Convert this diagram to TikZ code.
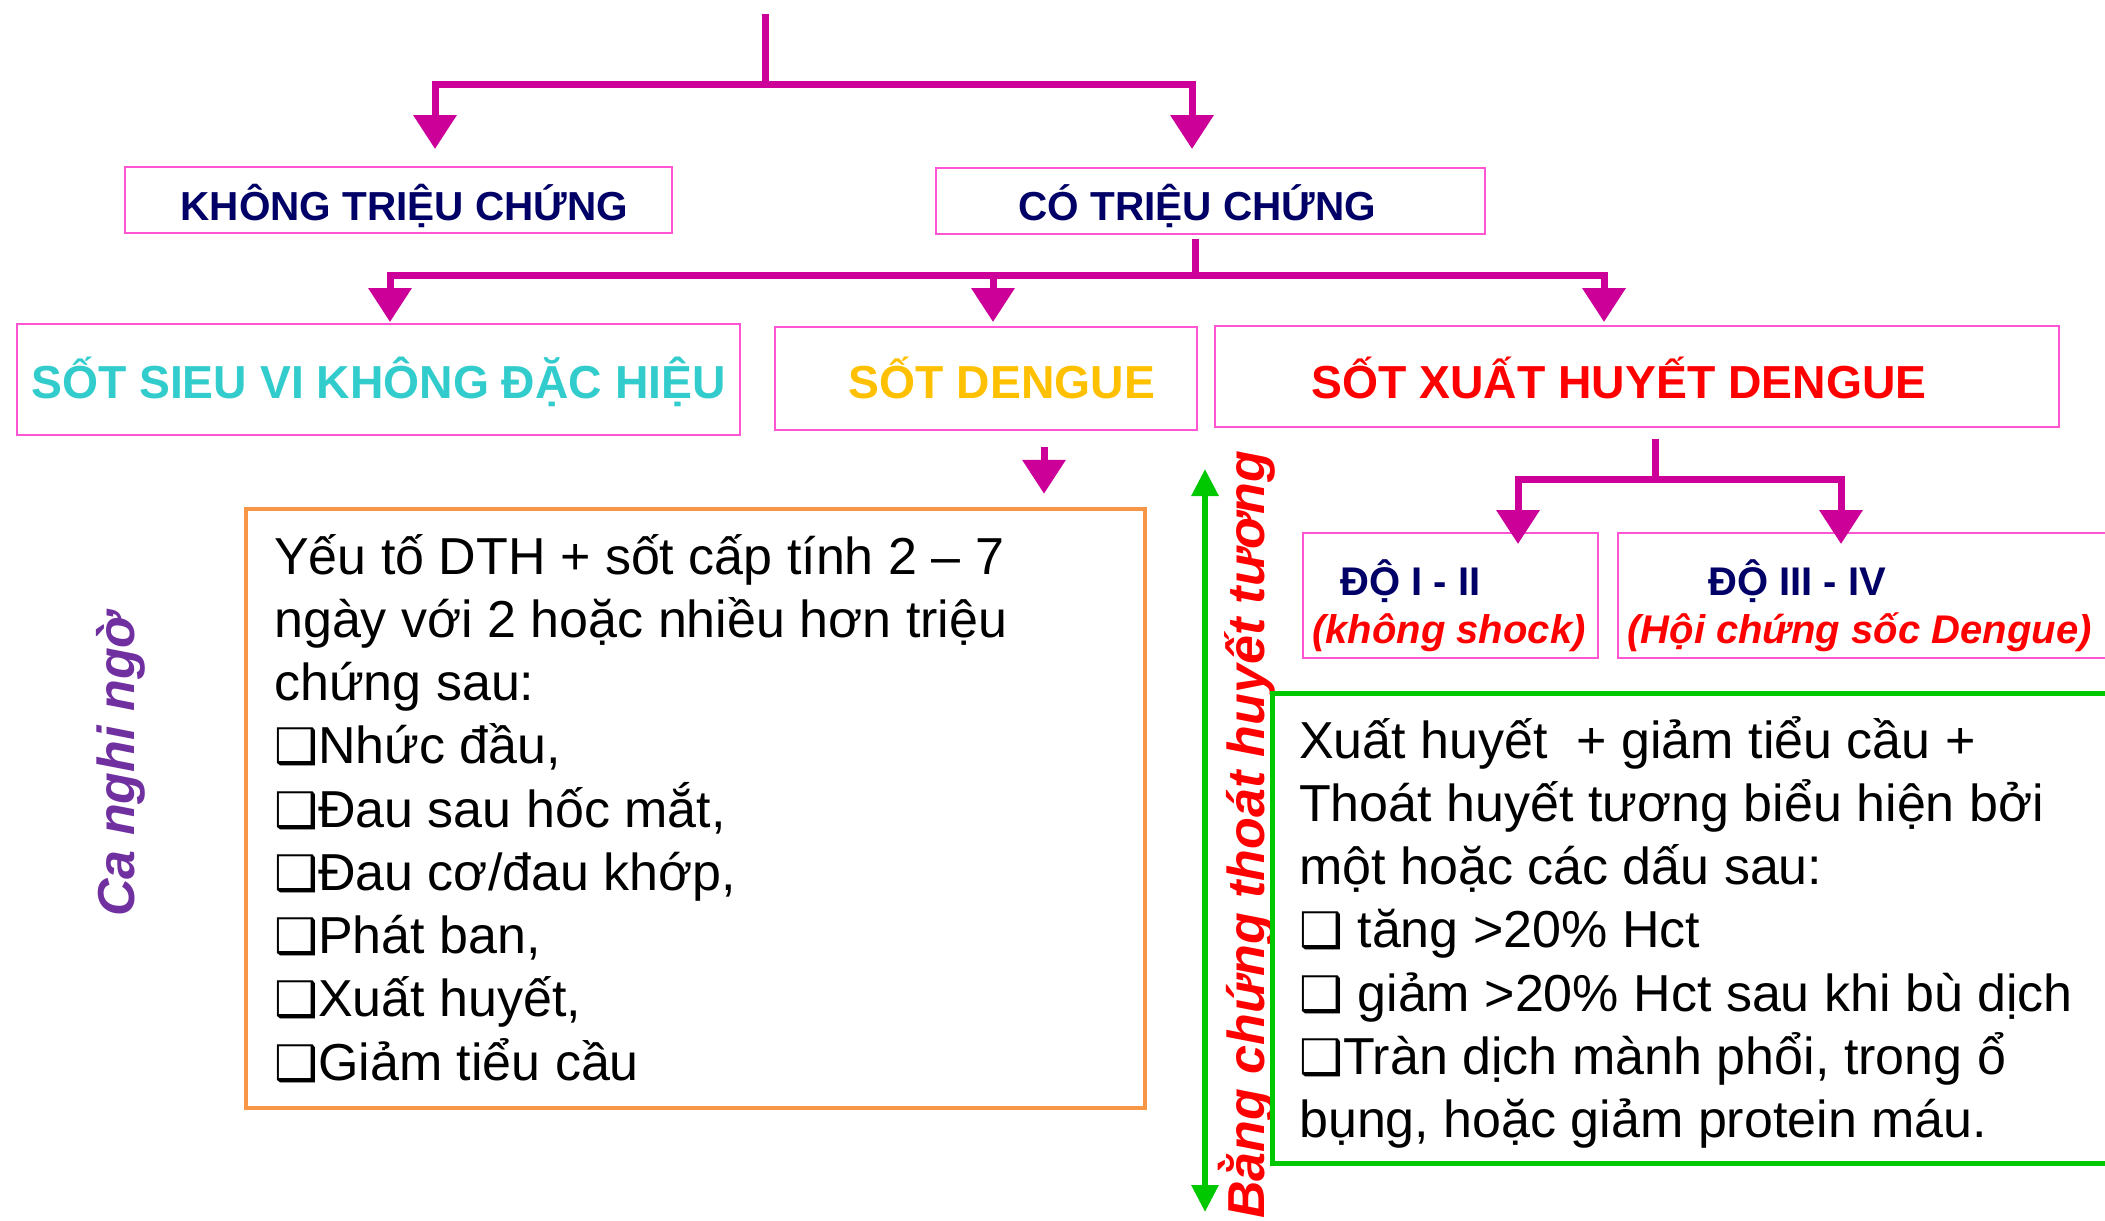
\documentclass[tikz,border=0pt]{standalone}
\usepackage{fontspec}
\setmainfont{Liberation Sans}
\newfontfamily\symfont{DejaVu Sans}
\usetikzlibrary{arrows.meta}
\definecolor{mag}{RGB}{204,0,153}
\definecolor{boxpink}{RGB}{255,85,210}
\definecolor{navy}{RGB}{0,0,102}
\definecolor{tealc}{RGB}{51,204,204}
\definecolor{goldc}{RGB}{255,192,0}
\definecolor{redc}{RGB}{255,0,0}
\definecolor{orangec}{RGB}{247,150,70}
\definecolor{greenc}{RGB}{0,200,0}
\definecolor{purplec}{RGB}{112,48,160}
\newcommand{\cbx}{{\symfont\bfseries\fontsize{49}{63.25}\selectfont ❑}}
\begin{document}
\begin{tikzpicture}[x=1pt,y=-1pt,
  pbox/.style={draw=boxpink,line width=2pt,inner sep=0pt,text depth=0pt},
  hfont/.style={font=\fontsize{40.5}{48}\selectfont\bfseries},
  bigfont/.style={font=\fontsize{46.3}{54}\selectfont\bfseries},
  bodyfont/.style={font=\fontsize{52}{63.25}\selectfont},
  rotfont/.style={font=\fontsize{52}{60}\selectfont\bfseries\itshape},
  subfont/.style={font=\fontsize{40}{48}\selectfont\bfseries},
  subitfont/.style={font=\fontsize{40}{48}\selectfont\bfseries\itshape},
  mline/.style={draw=mag,line width=7pt},
  marrow/.style={mline,-{Triangle[width=42pt,length=34pt]}},
  garrow/.style={draw=greenc,line width=6pt,{Triangle[width=26pt,length=27pt]}-{Triangle[width=26pt,length=27pt]}}]
\useasboundingbox (0,0) rectangle (2105,1221);
\clip (0,0) rectangle (2105,1221);

% level 1 boxes
\node[pbox,hfont,text=navy,minimum width=547pt,minimum height=66pt,text height=40pt] (kt) at (398.5,200) {\hspace*{12pt}KHÔNG TRIỆU CHỨNG};
\node[pbox,hfont,text=navy,minimum width=549pt,minimum height=66pt,text height=38pt] (ct) at (1210.5,201) {CÓ TRIỆU CHỨNG\hspace*{26pt}};

% level 2 boxes
\node[pbox,bigfont,text=tealc,minimum width=723pt,minimum height=111pt,text height=37pt] (sv) at (378.5,379.5) {SỐT SIEU VI KHÔNG ĐẶC HIỆU};
\node[pbox,bigfont,text=goldc,minimum width=422pt,minimum height=103pt,text height=39pt] (sd) at (986,378.5) {\hspace*{32pt}SỐT DENGUE};
\node[pbox,bigfont,text=redc,minimum width=844pt,minimum height=101pt,text height=43pt] (sx) at (1637,376.5) {SỐT XUẤT HUYẾT DENGUE\hspace*{36pt}};

% level 3 boxes
\node[pbox,minimum width=295pt,minimum height=125pt] (d12) at (1450.5,595.5) {};
\node[pbox,minimum width=497pt,minimum height=125pt] (d34) at (1866.5,595.5) {};
\node[subfont,text=navy,anchor=base,inner sep=0pt] (d12a) at (1410.5,595) {ĐỘ I - II};
\node[subitfont,text=redc,anchor=base,inner sep=0pt] (d12b) at (1449,643) {(không shock)};
\node[subfont,text=navy,anchor=base,inner sep=0pt] (d34a) at (1797,595) {ĐỘ III - IV};
\node[subitfont,text=redc,anchor=base,inner sep=0pt] (d34b) at (1859.5,643) {(Hội chứng sốc Dengue)};

% rotated labels
\node[rotfont,text=purplec,rotate=90,anchor=base west,inner sep=0pt] (cnn) at (134,917) {Ca nghi ngờ};
\node[rotfont,text=redc,rotate=90,anchor=base east,inner sep=0pt] (bc) at (1264,451) {Bằng chứng thoát huyết tương};

% text boxes
\node[draw=orangec,line width=4.5pt,minimum width=899pt,minimum height=599pt,inner sep=0pt] (lb) at (695.5,808.5) {};
\node[bodyfont,anchor=north west,align=left,inner sep=0pt] (lbt) at (274,519) {\rule{0pt}{55pt}Yếu tố DTH + sốt cấp tính 2 – 7\\
ngày với 2 hoặc nhiều hơn triệu\\
chứng sau:\\
\cbx Nhức đầu,\\
\cbx Đau sau hốc mắt,\\
\cbx Đau cơ/đau khớp,\\
\cbx Phát ban,\\
\cbx Xuất huyết,\\
\cbx Giảm tiểu cầu};

\node[draw=greenc,line width=5pt,minimum width=848pt,minimum height=470pt,inner sep=0pt] (rb) at (1696,928) {};
\node[bodyfont,anchor=north west,align=left,inner sep=0pt] (rbt) at (1299,703) {\rule{0pt}{55pt}Xuất huyết~ + giảm tiểu cầu +\\
Thoát huyết tương biểu hiện bởi\\
một hoặc các dấu sau:\\
\cbx{} tăng >20\% Hct\\
\cbx{} giảm >20\% Hct sau khi bù dịch\\
\cbx Tràn dịch mành phổi, trong ổ\\
bụng, hoặc giảm protein máu.};

% connectors level 1
\coordinate (top) at (765,14);
\coordinate (j1) at (765,84);
\coordinate (a1) at ([xshift=36.5pt,yshift=17pt]kt.north);
\coordinate (a2) at ([xshift=-18.5pt,yshift=18pt]ct.north);
\draw[mline] (top) -- (j1);
\draw[marrow] (j1) -| (a1);
\draw[marrow] (j1) -| (a2);

% connectors level 2
\coordinate (s2) at ([xshift=-15.5pt,yshift=-4pt]ct.south);
\coordinate (j2) at (1195,275);
\coordinate (b1) at ([xshift=11.5pt,yshift=1pt]sv.north);
\coordinate (b2) at ([xshift=7pt,yshift=4pt]sd.north);
\coordinate (b3) at ([xshift=-33pt,yshift=3pt]sx.north);
\draw[mline] (s2) -- (j2);
\draw[marrow] (j2) -| (b1);
\draw[marrow] (j2) -| (b2);
\draw[marrow] (j2) -| (b3);

% SOT DENGUE -> criteria box
\coordinate (s3) at ([xshift=58pt,yshift=-16pt]sd.south);
\draw[marrow,shorten >=13pt] (s3) -- (s3 |- lb.north);

% SXH -> grades
\coordinate (s4) at ([xshift=18pt,yshift=-11pt]sx.south);
\coordinate (j3) at (1655,479);
\coordinate (c1) at ([xshift=67.5pt,yshift=-12pt]d12.north);
\coordinate (c2) at ([xshift=-25.5pt,yshift=-12pt]d34.north);
\draw[mline] (s4) -- (j3);
\draw[marrow] (j3) -| (c1);
\draw[marrow] (j3) -| (c2);

% plasma leakage double arrow
\coordinate (g1) at (1205,469);
\coordinate (g2) at (1205,1212);
\draw[garrow] (g1) -- (g2);
\end{tikzpicture}
\end{document}
